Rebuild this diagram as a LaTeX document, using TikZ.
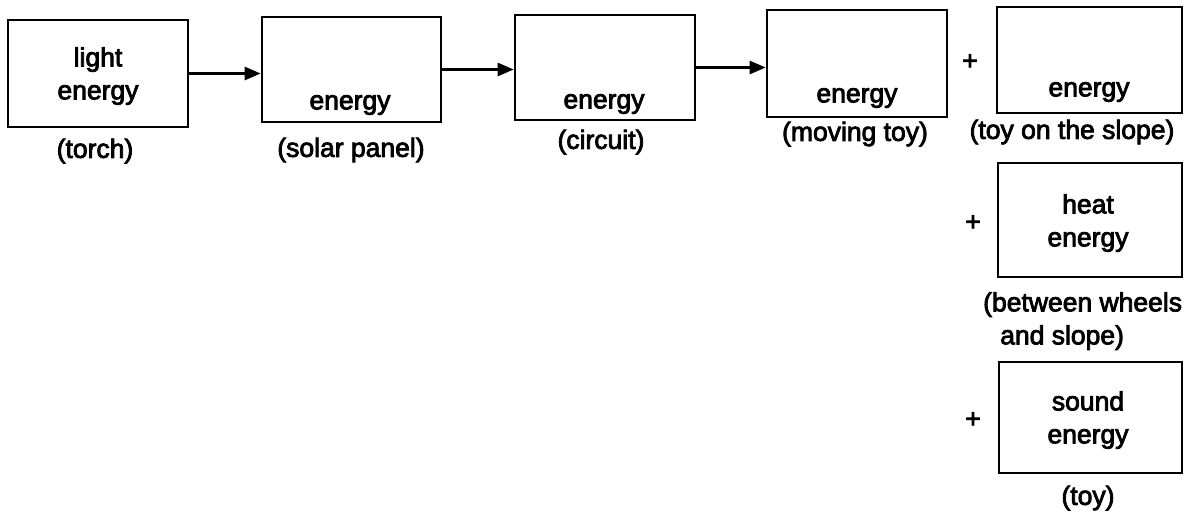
\documentclass[tikz,border=0pt]{standalone}
\usepackage{fontspec}
\setmainfont{Liberation Sans}[FakeBold=3]
\usetikzlibrary{arrows.meta}
\begin{document}
\begin{tikzpicture}[x=1pt,y=-1pt,
  box/.style={draw,line width=2.6pt,minimum width=#1,inner sep=0pt},
  txt/.style={inner sep=0pt,align=center,font=\fontsize{26.5}{33}\selectfont},
  arr/.style={line width=2.6pt,-{Triangle[length=16pt,width=13pt]}}]
\useasboundingbox (0,0) rectangle (1200,515);
% boxes
\node[box=180pt,minimum height=107pt] (b1) at (98,73.5) {};
\node[box=179pt,minimum height=105pt] (b2) at (351.5,69.5) {};
\node[box=180pt,minimum height=105pt] (b3) at (605,67.5) {};
\node[box=180pt,minimum height=107pt] (b4) at (857,63.5) {};
\node[box=185pt,minimum height=106pt] (b5) at (1089.5,60) {};
\node[box=184pt,minimum height=114pt] (b6) at (1090,220) {};
\node[box=183pt,minimum height=111pt] (b7) at (1090.5,417.5) {};
% arrows
\draw[arr] (b1.east) -- (b1.east -| b2.west);
\draw[arr] (b2.east) -- (b2.east -| b3.west);
\draw[arr] (b3.east) -- (b3.east -| b4.west);
% texts in boxes
\node[txt] (t1) at (98,76) {light\\energy};
\node[txt] (t2) at (350,105) {energy};
\node[txt] (t3) at (604,104) {energy};
\node[txt] (t4) at (857,98) {energy};
\node[txt] (t5) at (1089,92) {energy};
\node[txt] (t6) at (1088,223) {heat\\energy};
\node[txt] (t7) at (1088,420) {sound\\energy};
% captions
\node[txt] (c1) at (95,151) {(torch)};
\node[txt] (c2) at (351,150) {(solar panel)};
\node[txt] (c3) at (601,142) {(circuit)};
\node[txt] (c4) at (855,134) {(moving toy)};
\node[txt] (c5) at (1072,132) {(toy on the slope)};
\node[txt,align=left,anchor=west] (c6) at (983,321) {(between wheels\\\hspace*{17pt}and slope)};
\node[txt] (c7) at (1088,498) {(toy)};
% plus signs
\node[txt] (p1) at (970,62) {+};
\node[txt] (p2) at (973,223) {+};
\node[txt] (p3) at (973,420) {+};
\end{tikzpicture}
\end{document}
